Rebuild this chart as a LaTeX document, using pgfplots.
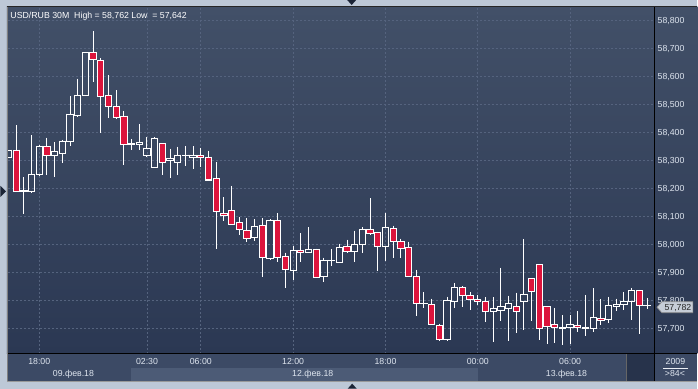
\documentclass[border=0pt]{standalone}
\usepackage{fontspec}
\setmainfont{Liberation Sans}
\usepackage{pgfplots}
\usepackage{pgfplotstable}
\pgfplotsset{compat=1.18}
\definecolor{framec}{HTML}{BDC8D7}
\definecolor{bgtop}{HTML}{425068}
\definecolor{bgbot}{HTML}{2B3853}
\definecolor{panel}{HTML}{3C4A65}
\definecolor{band}{HTML}{4C5B76}
\definecolor{darkbox}{HTML}{27334B}
\definecolor{gridc}{HTML}{55637E}
\definecolor{txt}{HTML}{DDE4EE}
\definecolor{bear}{HTML}{DC143C}
\definecolor{tagc}{HTML}{C6CDD7}
\definecolor{arrowc}{HTML}{1B2436}

% rising (hollow) candles: index, open, high, low, close
\pgfplotstableread{
i o h l c
-4 58313 58338 58313 58338
-2 58189 58240 58110 58192
-1 58191 58391 58185 58249
0 58251 58357 58244 58352
2 58320 58367 58241 58331
3 58327 58375 58291 58370
4 58370 58531 58354 58466
5 58461 58593 58457 58533
6 58533 58688 58533 58686
12 58359 58378 58337 58361
13 58359 58431 58337 58366
14 58320 58385 58312 58345
15 58274 58385 58274 58380
17 58299 58343 58237 58306
18 58295 58350 58248 58320
19 58318 58352 58280 58320
20 58313 58352 58269 58320
28 58025 58091 58015 58064
30 57951 58091 57947 58086
33 57908 57994 57875 57979
35 57972 58062 57972 57983
37 57887 57954 57868 57944
38 57943 57983 57923 57944
39 57937 58004 57937 57990
41 57976 58050 57939 58001
42 58001 58062 57969 58054
45 57994 58115 57943 58061
50 57789 57830 57773 57790
53 57661 57815 57656 57800
54 57796 57864 57775 57846
59 57761 57812 57652 57771
60 57764 57918 57727 57779
61 57771 57818 57656 57789
63 57796 58021 57695 57821
68 57702 57748 57642 57703
69 57704 57748 57645 57714
71 57702 57821 57674 57703
72 57700 57844 57688 57739
74 57732 57815 57721 57782
75 57779 57808 57764 57786
76 57786 57832 57768 57796
77 57796 57846 57732 57836
79 57782 57810 57771 57782
}\bull

% falling (red) candles: index, open, high, low, close
\pgfplotstableread{
i o h l c
-3 58338 58427 58189 58189
1 58352 58382 58248 58317
7 58686 58762 58582 58661
8 58657 58667 58397 58530
9 58533 58605 58454 58494
10 58494 58552 58448 58455
11 58459 58478 58283 58359
16 58362 58362 58248 58295
21 58317 58347 58276 58310
22 58313 58336 58226 58231
23 58235 58296 57985 58117
24 58111 58169 58083 58104
25 58121 58210 58069 58073
26 58079 58098 58033 58054
27 58050 58094 58011 58022
29 58068 58094 57886 57954
31 58086 58112 57939 57954
32 57958 57972 57847 57912
34 57979 58041 57939 57972
36 57983 57986 57880 57883
40 57994 58018 57972 57976
43 58054 58165 58036 58040
44 58043 58047 57907 57994
46 58057 58068 57951 58011
47 58011 58022 57954 57986
48 57990 58011 57883 57887
49 57886 57911 57746 57789
51 57786 57808 57714 57714
52 57711 57718 57656 57661
55 57846 57851 57779 57818
56 57818 57832 57768 57804
57 57804 57821 57786 57796
58 57796 57812 57725 57761
62 57779 57829 57685 57761
64 57879 57879 57727 57832
65 57928 57928 57660 57700
66 57779 57779 57645 57707
67 57714 57775 57649 57704
70 57711 57762 57688 57704
73 57736 57805 57713 57729
78 57836 57839 57681 57782
}\bear

\newcommand\lab{\fontsize{8.8}{10}\selectfont}

\pgfplotsset{
  vbar/.style={draw=none, mark=none,
    error bars/.cd, y dir=minus, y explicit, error mark=none,
    error bar style={draw=white, line width=#1}},
  vbar/.default=1bp,
  hbar/.style={draw=none, mark=none,
    error bars/.cd, x dir=both, x explicit, error mark=none,
    error bar style={draw=white, line width=1bp}},
}

\begin{document}
\begin{tikzpicture}[x=1bp,y=1bp]
% outer frame
\fill[framec] (0,0) rectangle (698,389);
% dark main area with gradient
\shade[top color=bgtop, bottom color=bgbot] (7,35) rectangle (698,382);
% bottom panel
\fill[panel] (7,7.5) rectangle (698,35);
\fill[band] (131,7.5) rectangle (478,21);
\fill[darkbox] (627,7.5) rectangle (655,35);
\draw[line width=0.8bp, black!60] (626.5,7.5) -- (626.5,35);

\begin{axis}[
  at={(8bp,35bp)}, anchor=south west, scale only axis,
  width=647bp, height=346bp,
  xmin=-4.065, xmax=79.96, ymin=57611, ymax=58845,
  axis line style={draw=none},
  tick style={draw=none},
  scaled y ticks=false, scaled x ticks=false,
  xtick={0,14,21,33,45,57,69},
  xticklabels={18:00,02:30,06:00,12:00,18:00,00:00,06:00},
  xticklabel style={anchor=base, yshift=-11bp, inner sep=0pt, font=\lab, text=txt},
  ytick={57700,57800,57900,58000,58100,58200,58300,58400,58500,58600,58700,58800},
  yticklabels={{57,700},{57,800},{57,900},{58,000},{58,100},{58,200},{58,300},{58,400},{58,500},{58,600},{58,700},{58,800}},
  yticklabel pos=right,
  yticklabel style={anchor=west, inner sep=0pt, xshift=3bp, font=\lab, text=txt},
  grid=major,
  major grid style={gridc, dash pattern=on 2bp off 2bp, line width=0.8bp},
  clip=true,
]
% --- falling candles: wick, white outline, red body
\addplot[vbar] table[x=i, y=h, y error minus expr={\thisrow{h}-\thisrow{l}}] {\bear};
\addplot[vbar=7.3bp] table[x=i, y expr={\thisrow{o}+1.8}, y error minus expr={\thisrow{o}-\thisrow{c}+3.6}] {\bear};
\addplot[draw=none, mark=none, error bars/.cd, y dir=minus, y explicit, error mark=none,
  error bar style={draw=bear, line width=5.3bp}]
  table[x=i, y expr={\thisrow{o}-1.8}, y error minus expr={max(\thisrow{o}-\thisrow{c}-3.6,0)}] {\bear};
% --- rising candles: wicks above and below, hollow outline
\addplot[vbar] table[x=i, y=h, y error minus expr={\thisrow{h}-\thisrow{c}}] {\bull};
\addplot[vbar] table[x=i, y=o, y error minus expr={\thisrow{o}-\thisrow{l}}] {\bull};
\addplot[vbar] table[x expr={\thisrow{i}-0.41}, y expr={\thisrow{c}+1.8}, y error minus expr={\thisrow{c}-\thisrow{o}+3.6}] {\bull};
\addplot[vbar] table[x expr={\thisrow{i}+0.41}, y expr={\thisrow{c}+1.8}, y error minus expr={\thisrow{c}-\thisrow{o}+3.6}] {\bull};
\addplot[hbar] table[x=i, y=c, x error expr={0.475}] {\bull};
\addplot[hbar] table[x=i, y=o, x error expr={0.475}] {\bull};
\end{axis}

% separator lines
\draw[black, line width=1bp] (7,35) -- (698,35);
\draw[black, line width=1bp] (655,7.5) -- (655,382);
\draw[black!85, line width=1.2bp] (7,382.2) -- (698,382.2);
\draw[black!50, line width=0.8bp] (7,7.5) -- (7,382);
\draw[black!40, line width=0.6bp] (7,7.3) -- (698,7.3);

% title
\node[anchor=base west, inner sep=0pt, text=white, font=\lab] at (10.3,370.7)
  {USD/RUB 30M \ High = 58,762 Low \ = 57,642};

% dates
\node[anchor=base, inner sep=0pt, text=txt, font=\lab] at (73.5,12.5) {09.фев.18};
\node[anchor=base, inner sep=0pt, text=txt, font=\lab] at (313,12.5) {12.фев.18};
\node[anchor=base, inner sep=0pt, text=txt, font=\lab] at (567,12.5) {13.фев.18};
\node[anchor=base, inner sep=0pt, text=txt, font=\lab] at (676,23.7) {2009};
\draw[txt!60, line width=0.6bp] (664,20.8) -- (689,20.8);
\node[anchor=base, inner sep=0pt, text=txt, font=\lab] at (675.5,11.7) {>84<};

% price tag
\fill[tagc, draw=black!45, line width=0.6bp] (657.5,81.5) -- (662.5,87) -- (693.5,87) -- (693.5,76) -- (662.5,76) -- cycle;
\node[anchor=base, inner sep=0pt, text=black!85, font=\lab] at (678.5,78) {57,782};

% arrows
\fill[arrowc] (347.5,389) -- (356.5,389) -- (352,384) -- cycle;
\fill[arrowc] (348,0) -- (357,0) -- (352.5,5) -- cycle;
\fill[arrowc] (0.5,203) -- (0.5,192) -- (6,197.5) -- cycle;
\end{tikzpicture}
\end{document}
